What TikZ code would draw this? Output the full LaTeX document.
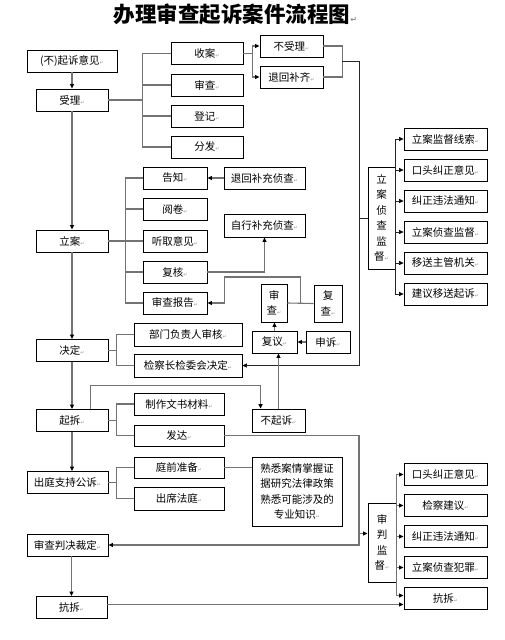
\documentclass[tikz,border=0pt]{standalone}
\usepackage{fontspec}
\newfontfamily\cjk{Noto Sans CJK SC}
\newfontfamily\symfont{DejaVu Sans}
\usetikzlibrary{arrows.meta,calc}
\newcommand\rmk{{\symfont\fontsize{5}{5}\selectfont\textcolor{black!40}{↵}}}

\begin{document}
\begin{tikzpicture}[x=1pt,y=-1pt,
  nbox/.style={draw, line width=0.8pt, inner sep=0pt, minimum height=22pt, align=center,
    font=\cjk\fontsize{10.5}{15.5}\selectfont},
  conn/.style={draw=black!55, line width=1.1pt},
  thinconn/.style={draw=black!85, line width=0.6pt},
  arr/.style={-{Triangle[length=4.5pt,width=4pt,color=black]}}]
\useasboundingbox (0,0) rectangle (504,640);
\node[font=\cjk\bfseries\fontsize{21.5}{24}\selectfont] (title) at (235.5,14)
  {办理审查起诉案件流程图{\symfont\fontsize{8}{8}\selectfont\textcolor{black!45}{↵}}};

% left column
\node[nbox, minimum width=90pt] (qsyj) at (72,61) {(不)起诉意见\rmk};
\node[nbox, minimum width=72pt] (shouli) at (72,100) {受理\rmk};
\node[nbox, minimum width=72pt] (lian) at (72,241) {立案\rmk};
\node[nbox, minimum width=72pt] (jueding) at (72,350.5) {决定\rmk};
\node[nbox, minimum width=72pt] (qisu) at (72,420.5) {起拆\rmk};
\node[nbox, minimum width=81pt] (chuting) at (67.5,482.5) {出庭支持公诉\rmk};
\node[nbox, minimum width=81pt] (shenpan) at (67.5,545) {审查判决裁定\rmk};
\node[nbox, minimum width=71pt] (kangsu) at (71.5,607.5) {抗拆\rmk};

% accept
\node[nbox, minimum width=72pt] (shouan) at (207,53.5) {收案\rmk};
\node[nbox, minimum width=72pt] (shencha) at (207,85) {审查\rmk};
\node[nbox, minimum width=72pt] (dengji) at (207,116) {登记\rmk};
\node[nbox, minimum width=72pt] (fenfa) at (207,147) {分发\rmk};
\node[nbox, minimum width=63pt] (bushouli) at (291.5,46) {不受理\rmk};
\node[nbox, minimum width=63pt] (tuihui) at (291.5,77) {退回补齐\rmk};

% filing
\node[nbox, minimum width=64pt] (gaozhi) at (175,178) {告知\rmk};
\node[nbox, minimum width=64pt] (yuejuan) at (175,209) {阅卷\rmk};
\node[nbox, minimum width=64pt] (tingqu) at (175,241) {听取意见\rmk};
\node[nbox, minimum width=64pt] (fuhe) at (175,272) {复核\rmk};
\node[nbox, minimum width=64pt] (shenbg) at (175,303) {审查报告\rmk};
\node[nbox, minimum width=81pt] (tuibc) at (264.5,178) {退回补充侦查\rmk};
\node[nbox, minimum width=81pt, minimum height=23pt] (zixing) at (264.5,225.5) {自行补充侦查\rmk};
\node[nbox, minimum width=26pt, minimum height=38pt] (shencha2) at (274,303) {审\\查\rmk};
\node[nbox, minimum width=28pt, minimum height=37pt] (fucha) at (328,303.5) {复\\查\rmk};
\node[nbox, minimum width=45pt] (fuyi) at (274.5,342) {复议\rmk};
\node[nbox, minimum width=44pt] (shensu) at (328,342) {申诉\rmk};

% decision
\node[nbox, minimum width=108pt, minimum height=23pt] (bmfz) at (188,334.5) {部门负责人审核\rmk};
\node[nbox, minimum width=108pt, minimum height=23pt] (jcz) at (188,365.5) {检察长检委会决定\rmk};

% prosecution
\node[nbox, minimum width=90pt] (zzws) at (179,404) {制作文书材料\rmk};
\node[nbox, minimum width=90pt, minimum height=21pt] (fada) at (179,435.5) {发达\rmk};
\node[nbox, minimum width=53pt, minimum height=23pt] (buqisu) at (278.5,420.5) {不起诉\rmk};

% court
\node[nbox, minimum width=90pt, minimum height=21pt] (tqzb) at (179,467.5) {庭前准备\rmk};
\node[nbox, minimum width=90pt, minimum height=23pt] (cxft) at (179,498.5) {出席法庭\rmk};
\node[nbox, minimum width=90pt, minimum height=69pt] (shuxi) at (297,491.5)
  {熟悉案情掌握证\\据研究法律政策\\熟悉可能涉及的\\专业知识\rmk};

% supervision
\node[nbox, minimum width=27pt, minimum height=102pt] (lajd) at (381.5,218) {立\\案\\侦\\查\\监\\督\rmk};
\foreach \txt [count=\i] in {立案监督线索,口头纠正意见,纠正违法通知,立案侦查监督,移送主管机关,建议移送起诉}
  \node[nbox, minimum width=83pt] (la\i) at (445.5,108+31*\i) {\txt\rmk};
\node[nbox, minimum width=28pt, minimum height=79pt] (spjd) at (382,542.5) {审\\判\\监\\督\rmk};
\foreach \txt [count=\i] in {口头纠正意见,检察建议,纠正违法通知,立案侦查犯罪,抗拆}
  \node[nbox, minimum width=83pt] (sp\i) at (445.5,443.5+31*\i) {\txt\rmk};

% main spine
\draw[conn,arr] (qsyj.south) -- (shouli.north);
\draw[conn,arr] (shouli.south) -- (lian.north);
\draw[conn,arr] (lian.south) -- (jueding.north);
\draw[conn,arr] (jueding.south) -- (qisu.north);
\draw[conn,arr] (qisu.south) -- (qisu.south |- chuting.north);
\draw[conn,arr] (shenpan.south -| kangsu.north) -- (kangsu.north);

% accept branches
\draw[conn] (shouan.west) -- ++(-28,0) coordinate (b1) |- (fenfa.west);
\draw[conn] (shouli.east) -- (shouli.east -| b1);
\draw[conn] (shencha.west) -- (shencha.west -| b1);
\draw[conn] (dengji.west) -- (dengji.west -| b1);
\draw[conn] (shouan.east) -- ++(9,0) coordinate (b2);
\draw[conn,arr] (b2) |- (bushouli.west);
\draw[conn,arr] (b2) |- (tuihui.west);
\draw[conn] (bushouli.east) -- ++(19,0) coordinate (b3) |- (tuihui.east);
\coordinate (rv) at (359,61.5);
\draw[thinconn,arr] (rv -| b3) -- (rv) |- (jcz.east);
\draw[thinconn] (rv |- lajd.west) -- (lajd.west);
\draw[thinconn] (lajd.east |- la1.west) -- (lajd.east |- la6.west);
\foreach \i in {1,...,6}
  \draw[thinconn,arr] (lajd.east |- la\i.west) -- (la\i.west);

% filing branches
\draw[conn] (gaozhi.west) -- ++(-17,0) coordinate (b4) |- (shenbg.west);
\draw[conn] (yuejuan.west) -- (yuejuan.west -| b4);
\draw[conn] (fuhe.west) -- (fuhe.west -| b4);
\draw[conn] (lian.east) -- (tingqu.west);
\draw[conn,arr] (tuibc.west) -- (gaozhi.east);
\draw[conn,arr] (fuhe.east) -| (zixing.south);
\draw[conn] (shencha2.east) -- (fucha.west);
\draw[conn,arr] ($(shencha2.east)!.5!(fucha.west)$) |- ($(shenbg.east)+(17,-26)$) |- (shenbg.east);
\draw[conn,arr] (fuyi.north) -- (fuyi.north |- shencha2.south);
\draw[conn,arr] (shensu.west) -- (fuyi.east);
\draw[conn,arr] (buqisu.north) -- (buqisu.north |- fuyi.south);

% decision branches
\draw[conn] (bmfz.west) -- ++(-17,0) coordinate (b5) |- (jcz.west);
\draw[conn] (jueding.east) -- (jueding.east -| b5);

% prosecution branches
\draw[conn] (zzws.west) -- ++(-17,0) coordinate (b6) |- (fada.west);
\draw[conn] (qisu.east) -- (qisu.east -| b6);
\draw[conn,arr] ($(qisu.north)!.5!(qisu.north east)$) -- ++(0,-23.5) -| ($(buqisu.north west)+(9,0)$);

% court branches
\draw[conn] (tqzb.west) -- ++(-17,0) coordinate (b7) |- (cxft.west);
\draw[conn] (chuting.east) -- (chuting.east -| b7);
\draw[conn] (tqzb.east) -- (tqzb.east -| shuxi.west);

% trial supervision
\draw[conn,arr] (fada.east) -- (fada.east -| rv) |- (shenpan.east);
\draw[conn,arr] ($(spjd.west -| rv)+(0,-9)$) -- ($(spjd.west)+(0,-9)$);
\draw[conn] (spjd.east |- sp1.west) -- ($(spjd.east |- sp5.west)+(0,-3)$);
\foreach \i in {1,...,4}
  \draw[conn,arr] (spjd.east |- sp\i.west) -- (sp\i.west);
\draw[conn,arr] ($(spjd.east |- sp5.west)+(0,-3)$) -- ($(sp5.west)+(0,-3)$);
\draw[conn,arr] ($(kangsu.east)+(0,-3)$) -- ($(kangsu.east -| sp5.west)+(0,-3)$);
\end{tikzpicture}
\end{document}
